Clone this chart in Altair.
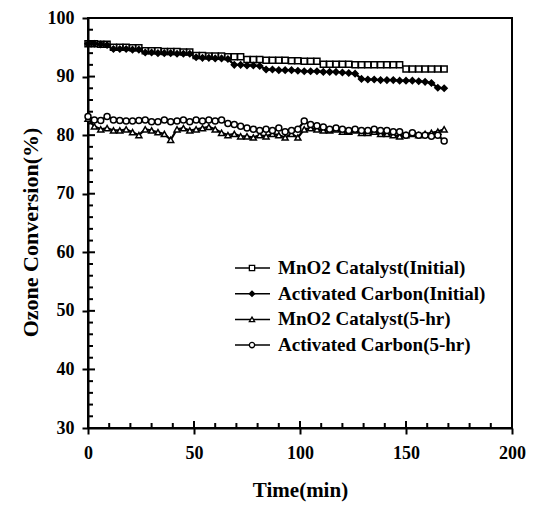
import altair as alt
import pandas as pd

time = list(range(0, 169, 3))

names = ["MnO2 Catalyst(Initial)", "Activated Carbon(Initial)",
         "MnO2 Catalyst(5-hr)", "Activated Carbon(5-hr)"]

mno2_init = [95.6, 95.6, 95.5, 95.5, 95.0, 95.0, 95.0, 94.9, 94.9, 94.4,
             94.4, 94.4, 94.3, 94.3, 94.3, 94.2, 94.2, 93.6, 93.6, 93.5,
             93.5, 93.5, 93.4, 93.4, 93.4, 92.9, 92.9, 92.9, 92.8, 92.8,
             92.8, 92.8, 92.7, 92.7, 92.6, 92.6, 92.6, 92.1, 92.1, 92.1,
             92.1, 92.1, 92.0, 92.0, 92.0, 92.0, 92.0, 92.0, 92.0, 92.0,
             91.3, 91.3, 91.3, 91.3, 91.3, 91.3, 91.3]
ac_init = [95.6, 95.6, 95.5, 95.4, 94.7, 94.7, 94.7, 94.6, 94.6, 94.1,
           94.1, 94.0, 94.0, 94.0, 93.9, 93.9, 93.9, 93.3, 93.2, 93.2,
           93.1, 93.1, 93.0, 92.0, 92.0, 91.9, 91.9, 91.8, 91.2, 91.2,
           91.1, 91.1, 91.1, 91.0, 90.9, 90.9, 90.9, 90.8, 90.8, 90.8,
           90.7, 90.6, 90.5, 89.6, 89.5, 89.5, 89.4, 89.4, 89.4, 89.3,
           89.3, 89.3, 89.2, 89.1, 88.9, 88.1, 88.0]
mno2_5hr = [82.8, 81.5, 81.0, 81.2, 80.8, 80.8, 81.0, 80.5, 80.0, 81.0,
            80.8, 80.5, 80.2, 79.2, 81.0, 81.2, 80.8, 81.0, 81.2, 81.4,
            81.0, 80.4, 80.0, 80.2, 79.8, 79.8, 79.6, 80.0, 79.8, 80.2,
            80.0, 79.6, 80.2, 79.6, 81.0, 81.2, 81.0, 80.8, 80.8, 81.0,
            80.6, 80.6, 80.8, 80.4, 80.4, 80.6, 80.2, 80.2, 80.0, 79.8,
            80.0, 80.2, 80.0, 80.2, 80.4, 80.6, 81.0]
ac_5hr = [83.2, 82.6, 82.5, 83.2, 82.6, 82.5, 82.4, 82.4, 82.5, 82.6,
          82.3, 82.3, 82.6, 82.3, 82.4, 82.6, 82.3, 82.6, 82.4, 82.6,
          82.4, 82.6, 82.0, 81.8, 81.5, 81.2, 81.0, 80.8, 81.0, 80.8,
          81.2, 80.6, 80.8, 81.0, 82.4, 81.8, 81.6, 81.4, 81.0, 81.2,
          81.0, 80.8, 81.0, 80.8, 80.8, 81.0, 80.8, 80.8, 80.6, 80.6,
          80.0, 80.4, 80.0, 80.0, 79.8, 80.0, 79.0]

x_major = [0, 50, 100, 150, 200]
x_minor = [v for v in range(0, 201, 10) if v % 50 != 0]
y_major = [30, 40, 50, 60, 70, 80, 90, 100]
y_minor = [v for v in range(30, 101, 2) if v % 10 != 0]

shapes = ["square", "diamond", "triangle-up", "circle"]
fills = ["white", "black", "white", "white"]

FONT = "Liberation Serif"
W, H = 424, 410

rows = []
for name, vals in zip(names, [mno2_init, ac_init, mno2_5hr, ac_5hr]):
    for t, v in zip(time, vals):
        rows.append({"time": t, "conv": v, "series": name})
df = pd.DataFrame(rows)

xs = alt.Scale(domain=[0, 200], nice=False, zero=False)
ys = alt.Scale(domain=[30, 100], nice=False, zero=False)

x_enc = alt.X("time:Q", scale=xs, axis=alt.Axis(
    values=x_major, title="Time(min)", format="d", labelFlush=False,
    labelFont=FONT, labelFontWeight="bold", labelFontSize=18, labelColor="black",
    labelPadding=10, tickSize=6, tickWidth=2, tickColor="black",
    domainColor="black", domainWidth=2, grid=False,
    titleFont=FONT, titleFontWeight="bold", titleFontSize=21, titleColor="black",
    titleY=68, titleBaseline="alphabetic"))
y_enc = alt.Y("conv:Q", scale=ys, axis=alt.Axis(
    values=y_major, title="Ozone Conversion(%)", format="d", labelFlush=False,
    labelFont=FONT, labelFontWeight="bold", labelFontSize=18, labelColor="black",
    labelPadding=8, tickSize=6, tickWidth=2, tickColor="black",
    domainColor="black", domainWidth=2, grid=False,
    titleFont=FONT, titleFontWeight="bold", titleFontSize=22, titleColor="black",
    titleX=-58, titleY=214, titleBaseline="middle", titleAlign="center"))

lines = alt.Chart(df).mark_line(color="black", strokeWidth=2.2).encode(
    x=x_enc, y=y_enc, detail="series:N")

points = alt.Chart(df).mark_point(size=36, strokeWidth=1.5, color="black", opacity=1).encode(
    x=alt.X("time:Q", scale=xs),
    y=alt.Y("conv:Q", scale=ys),
    shape=alt.Shape("series:N", scale=alt.Scale(domain=names, range=shapes), legend=None),
    fill=alt.Fill("series:N", scale=alt.Scale(domain=names, range=fills), legend=None),
)

ymaj = alt.Chart(pd.DataFrame({"conv": y_major})).mark_rule(color="black", strokeWidth=2).encode(
    y=alt.Y("conv:Q", scale=ys), x=alt.value(0), x2=alt.value(7))
ymin = alt.Chart(pd.DataFrame({"conv": y_minor})).mark_rule(color="black", strokeWidth=2).encode(
    y=alt.Y("conv:Q", scale=ys), x=alt.value(0), x2=alt.value(5))
xmaj = alt.Chart(pd.DataFrame({"time": x_major})).mark_rule(color="black", strokeWidth=2).encode(
    x=alt.X("time:Q", scale=xs), y=alt.value(H), y2=alt.value(H - 7))
xmin = alt.Chart(pd.DataFrame({"time": x_minor})).mark_rule(color="black", strokeWidth=2).encode(
    x=alt.X("time:Q", scale=xs), y=alt.value(H), y2=alt.value(H - 5))

legend_layers = []
for i, name in enumerate(names):
    ly = 250 + i * 25.7
    ldf = pd.DataFrame({"label": [name]})
    legend_layers.append(alt.Chart(ldf).mark_rule(color="black", strokeWidth=1.5).encode(
        x=alt.value(147), x2=alt.value(182), y=alt.value(ly)))
    legend_layers.append(alt.Chart(ldf).mark_point(
        shape=shapes[i], size=28, strokeWidth=1.3, color="black", fill=fills[i], opacity=1).encode(
        x=alt.value(164), y=alt.value(ly)))
    legend_layers.append(alt.Chart(ldf).mark_text(
        align="left", baseline="middle", font=FONT, fontWeight="bold", fontSize=19, color="black").encode(
        x=alt.value(190), y=alt.value(ly), text="label:N"))

chart = alt.layer(lines, points, ymaj, ymin, xmaj, xmin, *legend_layers).properties(
    width=W, height=H,
    autosize=alt.AutoSizeParams(type="none"),
    padding={"left": 80, "top": 10, "right": 20, "bottom": 80},
    background="white",
).configure_view(stroke="black", strokeWidth=2)

chart.save("out.html", embed_options={"renderer": "svg", "actions": False})
